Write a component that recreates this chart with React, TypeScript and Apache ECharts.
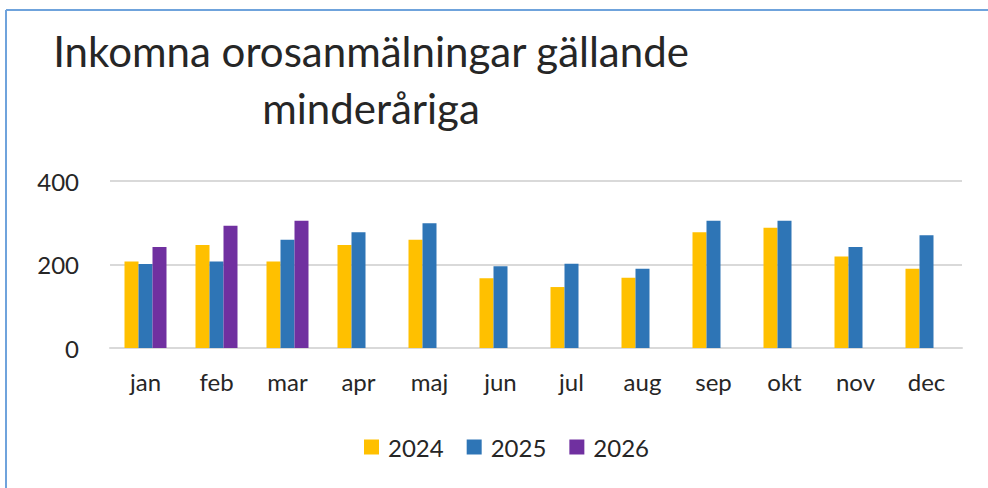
import React, { useEffect, useRef } from "react";
import * as echarts from "echarts";

const months = ["jan", "feb", "mar", "apr", "maj", "jun", "jul", "aug", "sep", "okt", "nov", "dec"];
const s2024 = [207, 247, 207, 247, 259, 167, 146, 168, 277, 288, 219, 190];
const s2025 = [201, 207, 259, 277, 299, 196, 202, 190, 305, 305, 242, 270];
const s2026: (number | null)[] = [242, 293, 305, null, null, null, null, null, null, null, null, null];
const seriesNames = ["2024", "2025", "2026"];
const colors = ["#FFC000", "#2E75B6", "#7030A0"];

const FONT = "Lato, 'Open Sans', sans-serif";
const TXT = "#262626";

export default function App() {
  const ref = useRef<HTMLDivElement>(null);
  useEffect(() => {
    if (!ref.current) return;
    const chart = echarts.init(ref.current, undefined, { renderer: "svg" });
    const data = [s2024, s2025, s2026];
    chart.setOption({
      animation: false,
      backgroundColor: "#ffffff",
      title: {
        text: "Inkomna orosanmälningar gällande\nminderåriga",
        left: 366,
        top: 17,
        textAlign: "center",
        textStyle: {
          fontFamily: FONT,
          fontSize: 42,
          fontWeight: "normal",
          color: TXT,
          lineHeight: 57,
          align: "center",
        },
      },
      legend: {
        left: 359,
        top: 430,
        itemWidth: 15,
        itemHeight: 15,
        itemGap: 23,
        icon: "rect",
        data: seriesNames,
        textStyle: { fontFamily: FONT, fontSize: 24, color: TXT, padding: [0, 0, 0, 4] },
      },
      grid: { left: 110, right: 26, top: 181, bottom: 140, containLabel: false },
      xAxis: {
        type: "category",
        data: months,
        axisLine: { lineStyle: { color: "#d9d9d9", width: 2 } },
        axisTick: { show: false },
        axisLabel: { fontFamily: FONT, fontSize: 24, color: TXT, margin: 21 },
      },
      yAxis: {
        type: "value",
        min: 0,
        max: 400,
        interval: 200,
        axisLine: { show: false },
        axisTick: { show: false },
        splitLine: { lineStyle: { color: "#d9d9d9", width: 2 } },
        axisLabel: { fontFamily: FONT, fontSize: 24, color: TXT, margin: 31 },
      },
      graphic: [
        { type: "line", shape: { x1: 6, y1: 10, x2: 988, y2: 10 }, style: { stroke: "#6FA3DC", lineWidth: 2 } },
        { type: "line", shape: { x1: 6, y1: 10, x2: 6, y2: 488 }, style: { stroke: "#6FA3DC", lineWidth: 2 } },
      ],
      series: seriesNames.map((name, i) => ({
        name,
        type: "bar",
        data: data[i],
        barWidth: 14,
        barGap: "0%",
        itemStyle: { color: colors[i] },
      })),
    });
    return () => chart.dispose();
  }, []);
  return (
    <div
      ref={ref}
      style={{ position: "absolute", left: 0, top: 0, width: 988, height: 488 }}
    />
  );
}
